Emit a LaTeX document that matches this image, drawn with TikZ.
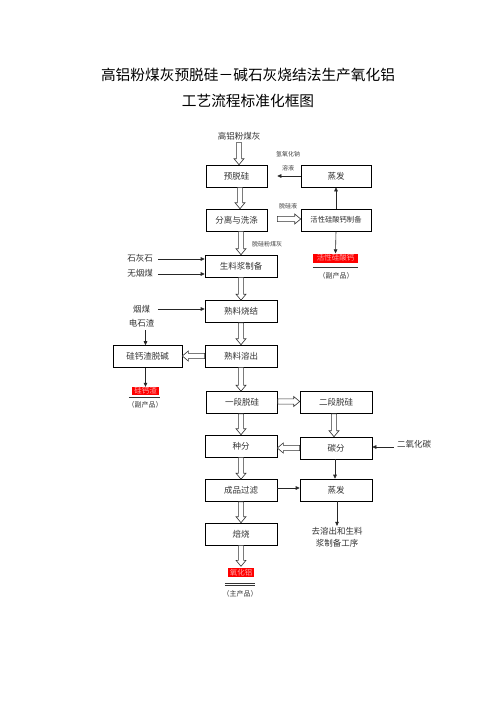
\documentclass[tikz,border=0pt]{standalone}
\usepackage{fontspec}
\setmainfont{Noto Sans CJK SC}
\usetikzlibrary{calc,arrows.meta}
\newcommand\hollowarr[2]{%
  \coordinate (hA) at (#1);
  \coordinate (hB) at (#2);
  \coordinate (hC) at ($(hB)!6pt!(hA)$);
  \draw[hollowline] ($(hA)!2.6pt!90:(hB)$) -- ($(hC)!2.6pt!90:(hB)$) -- ($(hC)!5pt!90:(hB)$) -- (hB)
    -- ($(hC)!5pt!-90:(hB)$) -- ($(hC)!2.6pt!-90:(hB)$) -- ($(hA)!2.6pt!-90:(hB)$) -- cycle;}
\tikzset{
  box/.style={draw=black, line width=0.6pt, minimum height=22pt, inner sep=0pt,
    font=\fontsize{8.5}{10}\selectfont, text=black!80},
  lbl/.style={inner sep=0pt, font=\fontsize{8.5}{12}\selectfont, text=black!80},
  lbltwo/.style={inner sep=0pt, font=\fontsize{7}{8}\selectfont, text=black!80},
  small/.style={inner sep=0pt, font=\fontsize{6}{7}\selectfont, text=black!75},
  titletext/.style={inner sep=0pt, font=\fontsize{14.7}{16}\selectfont, text=black},
  redlbl/.style={fill=red, inner sep=0pt, minimum height=9pt, text=red!35!white,
    font=\fontsize{7.5}{8}\selectfont},
  sarrow/.style={draw=black!85, line width=0.6pt, -{Triangle[length=4pt,width=3.6pt]}},
  hollowline/.style={draw=black!80, line width=0.6pt, fill=white},
  uline/.style={draw=black!80, line width=0.6pt}
}
\begin{document}
\begin{tikzpicture}[x=1pt,y=-1pt]
\useasboundingbox[fill=white] (0,0) rectangle (496,702);
% titles
\node[titletext] (t1) at (248,75) {高铝粉煤灰预脱硅－碱石灰烧结法生产氧化铝};
\node[titletext] (t2) at (248,101) {工艺流程标准化框图};
% nodes
\node[lbl] (gl) at (239,136) {高铝粉煤灰};
\node[box, minimum width=61pt] (yts) at (236.5,176) {预脱硅};
\node[box, minimum width=70pt] (zf1) at (336,176) {蒸发};
\node[box, minimum width=61pt] (flx) at (236.5,220) {分离与洗涤};
\node[box, minimum width=70pt, font=\fontsize{7.3}{9}\selectfont] (hxz) at (336,220) {活性硅酸钙制备};
\node[small] (naoh) at (288,154) {氢氧化钠};
\node[small] (ry) at (288,168) {溶液};
\node[small] (tgy) at (288,206) {脱硅液};
\node[small] (tgf) at (267,244) {脱硅粉煤灰};
\node[box, minimum width=72pt] (slj) at (241,266) {生料浆制备};
\node[lbl] (shs) at (140,258.5) {石灰石};
\node[lbl] (wym) at (140,273.5) {无烟煤};
\node[redlbl, minimum width=45pt] (hxg) at (335.5,258) {活性硅酸钙};
\node[lbltwo] (fc1) at (336,276) {（副产品）};
\node[box, minimum width=72pt] (slsj) at (241,311.5) {熟料烧结};
\node[lbl] (ym) at (141.5,309) {烟煤};
\node[lbl] (dsz) at (141.5,323) {电石渣};
\node[box, minimum width=72pt] (slrc) at (241,356) {熟料溶出};
\node[box, minimum width=69pt] (ggz) at (147.5,356.5) {硅钙渣脱碱};
\node[redlbl, minimum width=27pt, minimum height=8pt] (gz) at (145.5,391) {硅钙渣};
\node[lbltwo] (fc2) at (145,405) {（副产品）};
\node[box, minimum width=71pt] (ydtg) at (242,402.5) {一段脱硅};
\node[box, minimum width=72pt] (edtg) at (336,402.5) {二段脱硅};
\node[box, minimum width=72pt] (zhf) at (241,446) {种分};
\node[box, minimum width=72pt] (tf) at (336,448) {碳分};
\node[lbl] (co2) at (414,444) {二氧化碳};
\node[box, minimum width=72pt] (cpgl) at (241,490.5) {成品过滤};
\node[box, minimum width=72pt] (zf2) at (336,490) {蒸发};
\node[box, minimum width=72pt] (bs) at (241,534) {焙烧};
\node[lbl, align=center] (qrc) at (337,537) {去溶出和生料\\浆制备工序};
\node[redlbl, minimum width=26pt] (yhl) at (241,572.5) {氧化铝};
\node[lbltwo] (zc) at (240,594) {（主产品）};
% underlines
\draw[uline] ([yshift=-4.5pt]hxg.south west) -- ([yshift=-4.5pt]hxg.south east);
\draw[uline] ([xshift=-3pt,yshift=-2.5pt]gz.south west) -- ([xshift=1pt,yshift=-2.5pt]gz.south east);
\draw[uline] ([xshift=-3pt,yshift=-6pt]yhl.south west) -- ([xshift=1pt,yshift=-6pt]yhl.south east);
\draw[uline] ([xshift=-3pt,yshift=-8.5pt]yhl.south west) -- ([xshift=1pt,yshift=-8.5pt]yhl.south east);
% solid arrows
\draw[sarrow, shorten >=10pt] (zf1.west |- yts.east) -- (yts.east);
\draw[sarrow] (hxz.north) -- (zf1.south);
\draw[sarrow] (hxz.south) -- (hxg.north);
\draw[sarrow, shorten <=5pt] ([yshift=-0.5pt]shs.east) -- ([yshift=-0.5pt]shs.east -| slj.west);
\draw[sarrow, shorten <=5pt] ([yshift=-0.5pt]wym.east) -- ([yshift=-0.5pt]wym.east -| slj.west);
\draw[sarrow, shorten <=5pt] (ym.east -| wym.east) -- (ym.east -| slsj.west);
\draw[sarrow, shorten <=3pt] (dsz.south -| gz.north) -- (ggz.north -| gz.north);
\draw[sarrow] (ggz.south -| gz.north) -- (gz.north);
\draw[sarrow, shorten <=3pt] ([yshift=-3pt]co2.west) -- ([yshift=-3pt]co2.west -| tf.east);
\draw[sarrow] ([xshift=-1pt]tf.south) -- ([xshift=-1pt]zf2.north);
\draw[sarrow] ([yshift=2.5pt]cpgl.east) -- ([yshift=2.5pt]cpgl.east -| zf2.west);
\draw[sarrow, shorten >=1pt] ([xshift=1pt]zf2.south) -- ([xshift=1pt]zf2.south |- qrc.north);
% hollow arrows
\coordinate (mx) at (240,0);
\hollowarr{$(gl.south)+(0,2.5)$}{gl.south |- yts.north}
\hollowarr{yts.south -| mx}{flx.north -| mx}
\hollowarr{$(flx.east)+(10,-1)$}{$(flx.east -| hxz.west)+(0,-1)$}
\hollowarr{flx.south -| slj.north}{slj.north}
\hollowarr{slj.south}{slsj.north}
\hollowarr{slsj.south}{slrc.north}
\hollowarr{slrc.south}{slrc.south |- ydtg.north}
\hollowarr{slrc.west}{slrc.west -| ggz.east}
\hollowarr{$(ydtg.east)+(0,-1)$}{$(ydtg.east -| edtg.west)+(0,-1)$}
\hollowarr{$(edtg.south)+(-2,0)$}{$(edtg.south |- tf.north)+(-2,0)$}
\hollowarr{ydtg.south -| zhf.north}{zhf.north}
\hollowarr{tf.west}{tf.west -| zhf.east}
\hollowarr{zhf.south}{cpgl.north}
\hollowarr{cpgl.south}{bs.north}
\hollowarr{bs.south}{$(yhl.north)+(0,-1.5)$}
\end{tikzpicture}
\end{document}
